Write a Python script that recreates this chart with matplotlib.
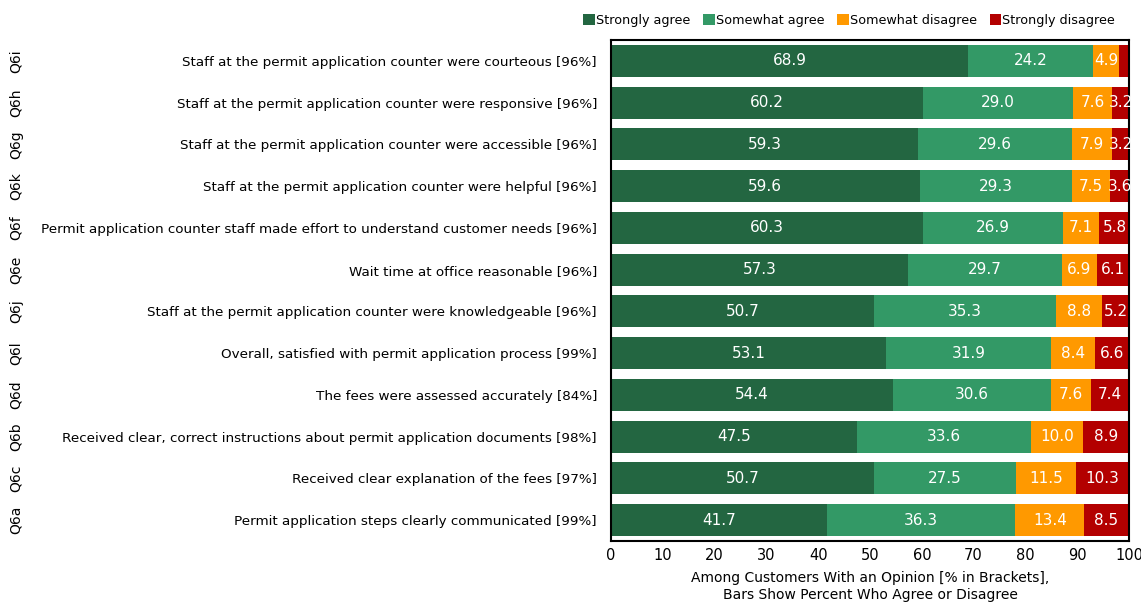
import matplotlib
matplotlib.use("Agg")
import matplotlib.pyplot as plt
from matplotlib.transforms import blended_transform_factory

codes = ["Q6i", "Q6h", "Q6g", "Q6k", "Q6f", "Q6e", "Q6j", "Q6l", "Q6d", "Q6b", "Q6c", "Q6a"]
items = [
    "Staff at the permit application counter were courteous [96%]",
    "Staff at the permit application counter were responsive [96%]",
    "Staff at the permit application counter were accessible [96%]",
    "Staff at the permit application counter were helpful [96%]",
    "Permit application counter staff made effort to understand customer needs [96%]",
    "Wait time at office reasonable [96%]",
    "Staff at the permit application counter were knowledgeable [96%]",
    "Overall, satisfied with permit application process [99%]",
    "The fees were assessed accurately [84%]",
    "Received clear, correct instructions about permit application documents [98%]",
    "Received clear explanation of the fees [97%]",
    "Permit application steps clearly communicated [99%]",
]
strongly_agree = [68.9, 60.2, 59.3, 59.6, 60.3, 57.3, 50.7, 53.1, 54.4, 47.5, 50.7, 41.7]
somewhat_agree = [24.2, 29.0, 29.6, 29.3, 26.9, 29.7, 35.3, 31.9, 30.6, 33.6, 27.5, 36.3]
somewhat_disagree = [4.9, 7.6, 7.9, 7.5, 7.1, 6.9, 8.8, 8.4, 7.6, 10.0, 11.5, 13.4]
strongly_disagree = [2.0, 3.2, 3.2, 3.6, 5.8, 6.1, 5.2, 6.6, 7.4, 8.9, 10.3, 8.5]

series = [
    ("Strongly agree", strongly_agree, "#236641"),
    ("Somewhat agree", somewhat_agree, "#339966"),
    ("Somewhat disagree", somewhat_disagree, "#FF9900"),
    ("Strongly disagree", strongly_disagree, "#B30000"),
]

plt.rcParams["font.family"] = ["DejaVu Sans"]
fig = plt.figure(figsize=(11.41, 6.04), dpi=100)
ax = fig.add_axes([0.5355, 0.1043, 0.454, 0.8295])

y = list(range(len(items)))
left = [0.0] * len(items)
for name, vals, color in series:
    ax.barh(y, vals, left=left, height=0.77, color=color, label=name)
    for yi, l, v in zip(y, left, vals):
        if v >= 3:
            ax.text(l + v / 2, yi, f"{v:.1f}", ha="center", va="center",
                    color="white", fontsize=11)
    left = [a + b for a, b in zip(left, vals)]

ax.set_xlim(0, 100)
ax.set_ylim(len(items) - 0.5, -0.5)
ax.set_xticks(range(0, 101, 10))
ax.tick_params(axis="x", length=0, labelsize=10.5, pad=5)
ax.set_yticks(y)
ax.set_yticklabels(items, fontsize=9.7)
ax.tick_params(axis="y", length=0, pad=10)
for s in ax.spines.values():
    s.set_color("black")
    s.set_linewidth(1.5)

trans = blended_transform_factory(fig.transFigure, ax.transData)
for yi, c in zip(y, codes):
    fig.text(0.014, yi, c, transform=trans, rotation=90, ha="center",
             va="center", fontsize=10)

ax.set_xlabel("Among Customers With an Opinion [% in Brackets],\nBars Show Percent Who Agree or Disagree",
              fontsize=10, labelpad=6, linespacing=1.25)

ax.legend(loc="lower right", bbox_to_anchor=(0.998, 1.0), ncol=4, frameon=False,
          handlelength=0.9, handleheight=0.9, handletextpad=0.1, columnspacing=1.0,
          fontsize=9.2, borderaxespad=0.8, borderpad=0.2)

fig.savefig("out.png", dpi=100)
